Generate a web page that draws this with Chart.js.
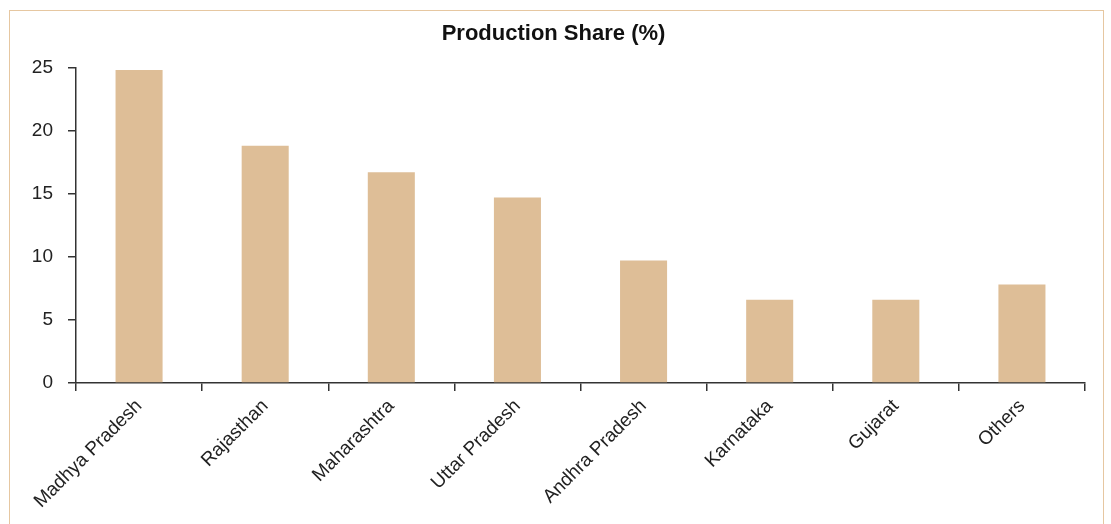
<!DOCTYPE html>
<html>
<head>
<meta charset="utf-8">
<script src="https://cdn.jsdelivr.net/npm/chart.js@4/dist/chart.umd.min.js"></script>
<style>
  html, body { margin: 0; padding: 0; background: #fff; }
  body { width: 1111px; height: 524px; position: relative; overflow: hidden; }
  #frame { position: absolute; left: 9px; top: 10px; width: 1095px; height: 540px; border: 1.5px solid #e6c7a1; box-sizing: border-box; }
  #wrap { position: absolute; left: 0; top: 0; width: 1111px; height: 524px; }
</style>
</head>
<body>
<div id="frame"></div>
<div id="wrap"><canvas id="c"></canvas></div>
<script>
const categories = ['Madhya Pradesh', 'Rajasthan', 'Maharashtra', 'Uttar Pradesh', 'Andhra Pradesh', 'Karnataka', 'Gujarat', 'Others'];
const productionShare = [24.8, 18.8, 16.7, 14.7, 9.7, 6.6, 6.6, 7.8];
const yTicks = [0, 5, 10, 15, 20, 25];
const chartTitle = 'Production Share (%)';

const axisColor = '#333333';
const textColor = '#222222';

new Chart(document.getElementById('c'), {
  type: 'bar',
  data: {
    labels: categories,
    datasets: [{
      data: productionShare,
      backgroundColor: '#debe97',
      borderWidth: 0,
      barPercentage: 0.373,
      categoryPercentage: 1.0
    }]
  },
  options: {
    responsive: true,
    maintainAspectRatio: false,
    animation: false,
    layout: { padding: { top: 0, right: 26, bottom: 0, left: 22 } },
    plugins: {
      legend: { display: false },
      tooltip: { enabled: false },
      title: {
        display: true,
        text: chartTitle,
        color: '#111',
        font: { family: 'Liberation Sans, Arial, sans-serif', size: 22, weight: 'bold' },
        padding: { top: 21, bottom: 20 }
      }
    },
    scales: {
      x: {
        offset: true,
        grid: { offset: true, drawOnChartArea: false, drawTicks: true, tickLength: 8, color: axisColor, lineWidth: 1.5 },
        border: { display: true, color: axisColor, width: 1.5 },
        ticks: {
          color: textColor,
          font: { family: 'Liberation Sans, Arial, sans-serif', size: 19 },
          maxRotation: 45, minRotation: 45, padding: 4, autoSkip: false
        },
        afterFit: (s) => { s.height = 141; }
      },
      y: {
        min: 0, max: 25,
        afterBuildTicks: (s) => { s.ticks = yTicks.map(v => ({ value: v })); },
        grid: { drawOnChartArea: false, drawTicks: true, tickLength: 8, color: axisColor, lineWidth: 1.5 },
        border: { display: true, color: axisColor, width: 1.5 },
        ticks: {
          color: textColor,
          font: { family: 'Liberation Sans, Arial, sans-serif', size: 19 },
          padding: 15
        },
        afterFit: (s) => { s.width = 54; }
      }
    }
  }
});
</script>
</body>
</html>
